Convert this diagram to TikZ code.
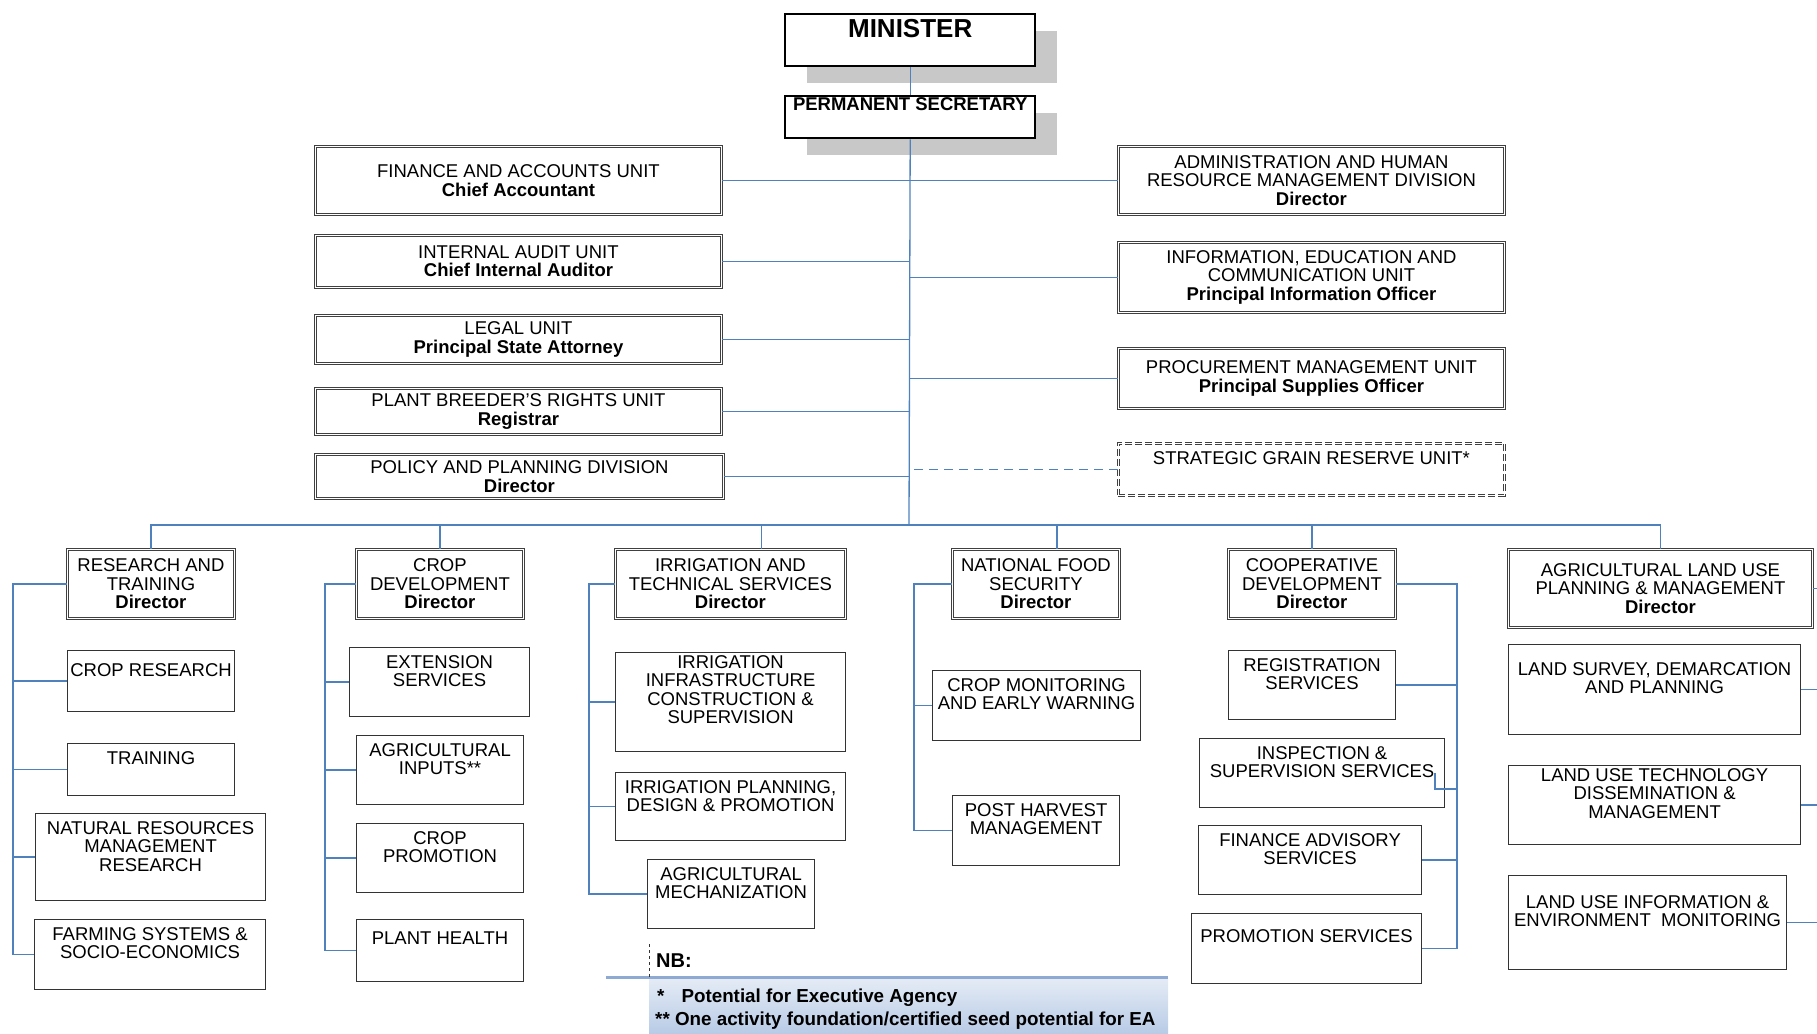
\documentclass[tikz,border=0pt]{standalone}
\usepackage{fontspec}
\setmainfont{Liberation Sans}
\usetikzlibrary{shadows}

\definecolor{linkblue}{RGB}{79,129,189}
\definecolor{shadowgray}{RGB}{200,200,200}
\definecolor{nbtop}{RGB}{228,235,245}
\definecolor{nbbottom}{RGB}{184,203,230}
\definecolor{nbline}{RGB}{143,170,210}

\newcommand\unitfont{\fontsize{18.5}{18.5}\selectfont}
\newcommand\ministerfont{\fontsize{26}{28}\selectfont\bfseries}
\newcommand\notefont{\fontsize{18.8}{21}\selectfont\bfseries}

\begin{document}
\begin{tikzpicture}[x=1pt, y=-1pt,
    link/.style = {draw=linkblue, line width=1.3pt},
    topbox/.style = {draw=black, line width=2.4pt, fill=white, anchor=north west, inner sep=0pt,
        drop shadow={shadow xshift=22pt, shadow yshift=-17pt, fill=shadowgray, opacity=1}},
    toplbl/.style = {anchor=north, inner sep=3pt, font=\unitfont\bfseries},
    unitbox/.style = {draw=black!75, line width=0.9pt, double=white, double distance=1.8pt, fill=white,
        anchor=north west, inner sep=0pt, align=center, font=\unitfont},
    subbox/.style = {draw=black!80, line width=1.1pt, fill=white, anchor=north west, inner sep=0pt},
    sublbl/.style = {anchor=north, align=center, inner sep=8pt, font=\unitfont}]
\useasboundingbox (0,0) rectangle (1817,1033);

    % minister and permanent secretary
    \node[topbox, minimum width=250pt, minimum height=52pt, label={[toplbl, inner sep=6pt, font=\ministerfont]north:MINISTER}] (min) at (784,13) {};
    \node[topbox, minimum width=250pt, minimum height=42pt, label={[toplbl, inner sep=2pt]north:PERMANENT SECRETARY}] (ps) at (784,95) {};
    \coordinate (bus) at (909,525);

    % units on the left
    \node[unitbox, minimum width=406pt, minimum height=68pt] (fin) at (315,146) {FINANCE AND ACCOUNTS UNIT\\\textbf{Chief Accountant}};
    \node[unitbox, minimum width=406pt, minimum height=52pt] (audit) at (315,235) {INTERNAL AUDIT UNIT\\\textbf{Chief Internal Auditor}};
    \node[unitbox, minimum width=406pt, minimum height=48pt] (legal) at (315,315) {LEGAL UNIT\\\textbf{Principal State Attorney}};
    \node[unitbox, minimum width=406pt, minimum height=46pt] (pbr) at (315,388) {PLANT BREEDER'S RIGHTS UNIT\\\textbf{Registrar}};
    \node[unitbox, minimum width=408pt, minimum height=44pt] (policy) at (315,454) {POLICY AND PLANNING DIVISION\\\textbf{Director}};

    % units on the right
    \node[unitbox, minimum width=386pt, minimum height=68pt] (admin) at (1118,146) {ADMINISTRATION AND HUMAN\\RESOURCE MANAGEMENT DIVISION\\\textbf{Director}};
    \node[unitbox, minimum width=386pt, minimum height=70pt] (iec) at (1118,242) {INFORMATION, EDUCATION AND\\COMMUNICATION UNIT\\\textbf{Principal Information Officer}};
    \node[unitbox, minimum width=386pt, minimum height=60pt] (proc) at (1118,348) {PROCUREMENT MANAGEMENT UNIT\\\textbf{Principal Supplies Officer}};
    \node[unitbox, dash pattern=on 7pt off 3pt, minimum width=386pt, minimum height=52pt, label={[sublbl]north:STRATEGIC GRAIN RESERVE UNIT*}] (sgr) at (1118,443) {};

    % directorates
    \node[unitbox, minimum width=167pt, minimum height=69pt] (rtdir) at (67,549) {RESEARCH AND\\TRAINING\\\textbf{Director}};
    \node[unitbox, minimum width=167pt, minimum height=69pt] (cddir) at (356,549) {CROP\\DEVELOPMENT\\\textbf{Director}};
    \node[unitbox, minimum width=230pt, minimum height=69pt] (itdir) at (615,549) {IRRIGATION AND\\TECHNICAL SERVICES\\\textbf{Director}};
    \node[unitbox, minimum width=167pt, minimum height=69pt] (nfdir) at (952,549) {NATIONAL FOOD\\SECURITY\\\textbf{Director}};
    \node[unitbox, minimum width=167pt, minimum height=69pt] (cpdir) at (1228,549) {COOPERATIVE\\DEVELOPMENT\\\textbf{Director}};
    \node[unitbox, minimum width=304pt, minimum height=78pt] (ludir) at (1508,549) {AGRICULTURAL LAND USE\\PLANNING \& MANAGEMENT\\\textbf{Director}};

    % sections
    \node[subbox, minimum width=167pt, minimum height=61pt, label={[sublbl, yshift=-5pt]north:{CROP RESEARCH}}] (crres) at (67,650) {};
    \node[subbox, minimum width=167pt, minimum height=52pt, label={[sublbl]north:{TRAINING}}] (train) at (67,743) {};
    \node[subbox, minimum width=230pt, minimum height=87pt, label={[sublbl]north:{NATURAL RESOURCES\\MANAGEMENT\\RESEARCH}}] (nrm) at (35,813) {};
    \node[subbox, minimum width=231pt, minimum height=70pt, label={[sublbl]north:{FARMING SYSTEMS \&\\SOCIO-ECONOMICS}}] (farm) at (34,919) {};

    \node[subbox, minimum width=180pt, minimum height=69pt, label={[sublbl]north:{EXTENSION\\SERVICES}}] (ext) at (349,647) {};
    \node[subbox, minimum width=167pt, minimum height=69pt, label={[sublbl]north:{AGRICULTURAL\\INPUTS**}}] (agin) at (356,735) {};
    \node[subbox, minimum width=167pt, minimum height=69pt, label={[sublbl]north:{CROP\\PROMOTION}}] (crprom) at (356,823) {};
    \node[subbox, minimum width=167pt, minimum height=62pt, label={[sublbl, yshift=-5pt]north:{PLANT HEALTH}}] (phealth) at (356,919) {};

    \node[subbox, minimum width=230pt, minimum height=99pt, label={[sublbl, yshift=5pt]north:{IRRIGATION\\INFRASTRUCTURE\\CONSTRUCTION \&\\SUPERVISION}}] (iinfra) at (615,652) {};
    \node[subbox, minimum width=230pt, minimum height=68pt, label={[sublbl]north:{IRRIGATION PLANNING,\\DESIGN \& PROMOTION}}] (iplan) at (615,772) {};
    \node[subbox, minimum width=167pt, minimum height=69pt, label={[sublbl]north:{AGRICULTURAL\\MECHANIZATION}}] (agmech) at (647,859) {};

    \node[subbox, minimum width=208pt, minimum height=70pt, label={[sublbl]north:{CROP MONITORING\\AND EARLY WARNING}}] (cmon) at (932,670) {};
    \node[subbox, minimum width=167pt, minimum height=70pt, label={[sublbl]north:{POST HARVEST\\MANAGEMENT}}] (pharv) at (952,795) {};

    \node[subbox, minimum width=167pt, minimum height=69pt, label={[sublbl]north:{REGISTRATION\\SERVICES}}] (reg) at (1228,650) {};
    \node[subbox, minimum width=245pt, minimum height=69pt, label={[sublbl]north:{INSPECTION \&\\SUPERVISION SERVICES}}] (insp) at (1199,738) {};
    \node[subbox, minimum width=223pt, minimum height=69pt, label={[sublbl]north:{FINANCE ADVISORY\\SERVICES}}] (finadv) at (1198,825) {};
    \node[subbox, minimum width=230pt, minimum height=70pt, label={[sublbl, yshift=-8pt]north:{PROMOTION SERVICES}}] (promo) at (1191,913) {};

    \node[subbox, minimum width=292pt, minimum height=90pt, label={[sublbl, yshift=-10pt]north:{LAND SURVEY, DEMARCATION\\AND PLANNING}}] (lsurv) at (1508,644) {};
    \node[subbox, minimum width=292pt, minimum height=79pt, label={[sublbl, yshift=5pt]north:{LAND USE TECHNOLOGY\\DISSEMINATION \&\\MANAGEMENT}}] (lutech) at (1508,765) {};
    \node[subbox, minimum width=278pt, minimum height=94pt, label={[sublbl, yshift=-12pt]north:{LAND USE INFORMATION \&\\ENVIRONMENT\ \ MONITORING}}] (luinfo) at (1508,875) {};

    % spine x positions
    \coordinate (sp1) at (13,0);
    \coordinate (sp2) at (325,0);
    \coordinate (sp3) at (589,0);
    \coordinate (sp4) at (914,0);
    \coordinate (sp5) at (1457,0);
    \coordinate (rim) at (1817,0);

    % trunk
    \draw[link] (min) -- (ps);
    \draw[link] (ps.south) -- (bus);
    \draw[link] (fin.east) -- (fin.east -| ps.south);
    \draw[link] (audit.east) -- (audit.east -| ps.south);
    \draw[link] (legal.east) -- (legal.east -| ps.south);
    \draw[link] (pbr.east) -- (pbr.east -| ps.south);
    \draw[link] (policy.east) -- (policy.east -| ps.south);
    \draw[link] (admin.west) -- (admin.west -| ps.south);
    \draw[link] (iec.west) -- (iec.west -| ps.south);
    \draw[link] (proc.west) -- (proc.west -| ps.south);
    \draw[link, dash pattern=on 9pt off 6pt] (sgr.west) -- (sgr.west -| ps.south);

    % bus to directorates
    \draw[link] (rtdir.north) |- (bus);
    \draw[link] (cddir.north) |- (bus);
    \draw[link] ([xshift=31pt]itdir.north) |- (bus);
    \draw[link] ([xshift=21pt]nfdir.north) |- (bus);
    \draw[link] (cpdir.north) |- (bus);
    \draw[link] (ludir.north) |- (bus);

    % research and training
    \draw[link] (rtdir.west) -| (farm.west -| sp1) -- (farm.west);
    \draw[link] (crres.west) -- (crres.west -| sp1);
    \draw[link] (train.west) -- (train.west -| sp1);
    \draw[link] (nrm.west) -- (nrm.west -| sp1);

    % crop development
    \draw[link] (cddir.west) -| (phealth.west -| sp2) -- (phealth.west);
    \draw[link] (ext.west) -- (ext.west -| sp2);
    \draw[link] (agin.west) -- (agin.west -| sp2);
    \draw[link] (crprom.west) -- (crprom.west -| sp2);

    % irrigation
    \draw[link] (itdir.west) -| (agmech.west -| sp3) -- (agmech.west);
    \draw[link] (iinfra.west) -- (iinfra.west -| sp3);
    \draw[link] (iplan.west) -- (iplan.west -| sp3);

    % food security
    \draw[link] (nfdir.west) -| (pharv.west -| sp4) -- (pharv.west);
    \draw[link] (cmon.west) -- (cmon.west -| sp4);

    % cooperatives
    \draw[link] (cpdir.east) -| (promo.east -| sp5) -- (promo.east);
    \draw[link] (reg.east) -- (reg.east -| sp5);
    \draw[link] ([xshift=-10pt]insp.east) |- ([yshift=-16pt]insp.east -| sp5);
    \draw[link] (finadv.east) -- (finadv.east -| sp5);

    % land use
    \draw[link] (ludir.east) -- (ludir.east -| rim);
    \draw[link] (lsurv.east) -- (lsurv.east -| rim);
    \draw[link] (lutech.east) -- (lutech.east -| rim);
    \draw[link] (luinfo.east) -- (luinfo.east -| rim);

    % notes
    \shade[top color=nbtop, bottom color=nbbottom] (649,979) rectangle (1168,1033);
    \draw[nbline, line width=3pt] (606,977) -- (1168,977);
    \draw[black!80, dashed, line width=0.8pt] (649,944) -- (649,977);
    \node[anchor=west, inner sep=0pt, font=\fontsize{20}{22}\selectfont\bfseries] (nb) at (656,961) {NB:};
    \node[anchor=west, inner sep=0pt, font=\notefont] (note1) at (657,998) {*\hspace{17pt}Potential for Executive Agency};
    \node[anchor=west, inner sep=0pt, font=\notefont] (note2) at (655,1021) {** One activity foundation/certified seed potential for EA};
\end{tikzpicture}
\end{document}
